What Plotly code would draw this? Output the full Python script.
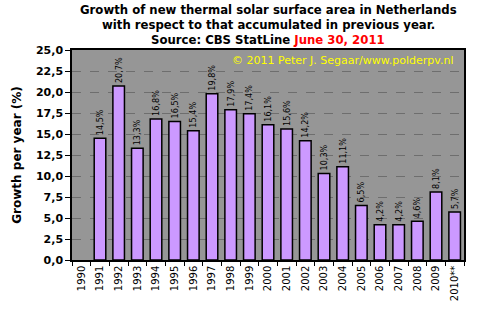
import plotly.graph_objects as go

years = ["1990", "1991", "1992", "1993", "1994", "1995", "1996", "1997", "1998",
         "1999", "2000", "2001", "2002", "2003", "2004", "2005", "2006", "2007",
         "2008", "2009", "2010**"]
growth_pct = [None, 14.5, 20.7, 13.3, 16.8, 16.5, 15.4, 19.8, 17.9, 17.4, 16.1,
              15.6, 14.2, 10.3, 11.1, 6.5, 4.2, 4.2, 4.6, 8.1, 5.7]
y_ticks = [0, 2.5, 5, 7.5, 10, 12.5, 15, 17.5, 20, 22.5, 25]
title_lines = [
    "Growth of new thermal solar surface area in Netherlands",
    "with respect to that accumulated in previous year.",
    "Source: CBS StatLine <span style='color:#FF0000'>June 30, 2011</span>",
]

W, H = 481, 321
ML, MR, MT, MB = 72, 17, 50, 61

fig = go.Figure()
fig.add_trace(go.Bar(
    x=years,
    y=growth_pct,
    width=0.62,
    marker=dict(color="#CC99FF", line=dict(color="black", width=1.5)),
    texttemplate="%{y:.1f}%",
    textposition="outside",
    textangle=-90,
    constraintext="none",
    textfont=dict(family="DejaVu Sans Condensed, DejaVu Sans", size=9, color="black"),
    cliponaxis=False,
    hoverinfo="skip",
))

fig.update_layout(
    width=W, height=H,
    margin=dict(l=ML, r=MR, t=MT, b=MB),
    paper_bgcolor="white",
    plot_bgcolor="#969696",
    separators=",.",
    showlegend=False,
    xaxis=dict(
        type="category",
        tickson="boundaries",
        ticks="outside", ticklen=4, tickcolor="black",
        tickangle=-90,
        tickfont=dict(family="DejaVu Sans", size=10, color="black"),
        showline=True, linecolor="black", linewidth=1.5, mirror=True,
        showgrid=False,
    ),
    yaxis=dict(
        range=[0, 25],
        tickvals=y_ticks,
        tickformat=".1f", ticksuffix="%",
        ticks="outside", ticklen=5, tickcolor="black",
        tickfont=dict(family="DejaVu Sans", size=11, color="black", weight="bold"),
        showline=True, linecolor="black", linewidth=1.5, mirror=True,
        showgrid=True, gridcolor="#6e6e6e", griddash="dash", gridwidth=1,
        zeroline=False,
        title=dict(text="Growth per year (%)", standoff=12,
                   font=dict(family="DejaVu Sans", size=12, color="black", weight="bold")),
    ),
    bargap=0.38,
)

# Three-line heading, centred over the plot area
for i, line in enumerate(title_lines):
    fig.add_annotation(
        text=line,
        xref="paper", yref="paper",
        x=0.5, y=1 + (MT - 10 - 15 * i) / (H - MT - MB),
        xanchor="center", yanchor="middle", showarrow=False,
        font=dict(family="DejaVu Sans", size=11.7, color="black", weight="bold"),
    )

fig.add_annotation(
    text="© 2011 Peter J. Segaar/www.polderpv.nl",
    xref="paper", yref="paper", x=0.977, y=0.948,
    xanchor="right", yanchor="middle", showarrow=False,
    font=dict(family="DejaVu Sans", size=11, color="#FFFF00"),
)

fig.write_html("out.html")
